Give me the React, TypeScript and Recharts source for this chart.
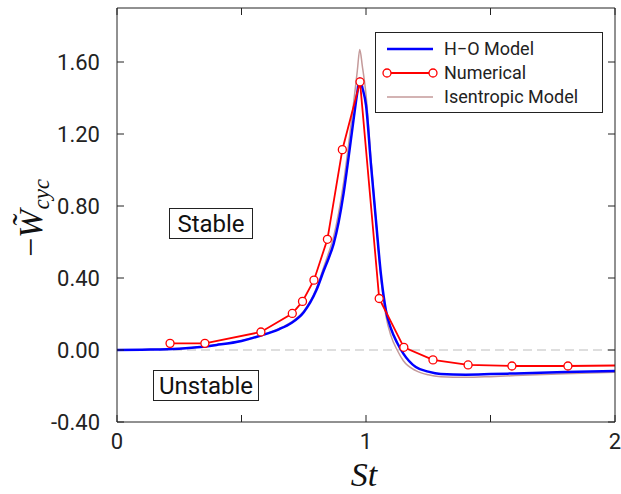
import React from "react";
import {
  LineChart,
  Line,
  XAxis,
  YAxis,
  ReferenceLine,
} from "recharts";

// Strouhal number grid for the two model curves
const modelSt = [
  0, 0.1, 0.2, 0.3, 0.4, 0.5, 0.575, 0.65, 0.7, 0.75, 0.8, 0.83, 0.85, 0.87, 0.89,
  0.91, 0.93, 0.95, 0.965, 0.975, 0.985, 1.0, 1.02, 1.04, 1.06, 1.08, 1.1, 1.125,
  1.15, 1.2, 1.25, 1.3, 1.4, 1.5, 1.6, 1.8, 2.0,
];

// H-O model
const hoModel = [
  0, 0.002, 0.004, 0.012, 0.028, 0.05, 0.079, 0.115, 0.15, 0.21, 0.33, 0.44, 0.51,
  0.59, 0.71, 0.87, 1.07, 1.28, 1.43, 1.51, 1.46, 1.36, 1.03, 0.72, 0.42, 0.22,
  0.12, 0.04, -0.02, -0.095, -0.12, -0.133, -0.137, -0.134, -0.13, -0.122, -0.116,
];

// Isentropic model
const isentropicModel = [
  0, 0.002, 0.005, 0.013, 0.029, 0.052, 0.081, 0.118, 0.155, 0.215, 0.34, 0.46,
  0.54, 0.63, 0.76, 0.93, 1.14, 1.37, 1.55, 1.67, 1.58, 1.42, 1.06, 0.72, 0.4,
  0.19, 0.08, 0.0, -0.06, -0.115, -0.138, -0.148, -0.152, -0.148, -0.142, -0.132,
  -0.124,
];

// Numerical results
const numSt = [
  0.213, 0.353, 0.578, 0.704, 0.745, 0.791, 0.845, 0.905, 0.976, 1.053, 1.152,
  1.269, 1.41, 1.586, 1.811, 2.0,
];
const numW = [
  0.037, 0.037, 0.1, 0.203, 0.27, 0.388, 0.615, 1.113, 1.49, 0.286, 0.015, -0.055,
  -0.083, -0.089, -0.089, -0.086,
];

const xTicks = [0, 0.5, 1, 1.5, 2];
const xTickLabels = ["0", "", "1", "", "2"];
const yTicks = [-0.4, 0, 0.4, 0.8, 1.2, 1.6];
const yTickLabels = ["-0.40", "0.00", "0.40", "0.80", "1.20", "1.60"];

const hoData = modelSt.map((st, i) => ({ st, w: hoModel[i] }));
const isoData = modelSt.map((st, i) => ({ st, w: isentropicModel[i] }));
const numData = numSt.map((st, i) => ({ st, w: numW[i] }));

const TICK_FONT = "Roboto, 'DejaVu Sans', sans-serif";
const TICK_LEN = 7;

const BottomTick = (props: any) => {
  const { x, y, index } = props;
  return (
    <g>
      <line x1={x} y1={y} x2={x} y2={y - TICK_LEN} stroke="#222" strokeWidth={1} />
      <text x={x} y={y + 27} textAnchor="middle" fontSize={22} fontFamily={TICK_FONT} fill="#222">
        {xTickLabels[index]}
      </text>
    </g>
  );
};

const TopTick = (props: any) => {
  const { x, y } = props;
  return <line x1={x} y1={y} x2={x} y2={y + TICK_LEN} stroke="#222" strokeWidth={1} />;
};

const LeftTick = (props: any) => {
  const { x, y, index } = props;
  return (
    <g>
      <line x1={x} y1={y} x2={x + TICK_LEN} y2={y} stroke="#222" strokeWidth={1} />
      <text x={x - 17} y={y + 8} textAnchor="end" fontSize={22} fontFamily={TICK_FONT} fill="#222">
        {yTickLabels[index]}
      </text>
    </g>
  );
};

const RightTick = (props: any) => {
  const { x, y } = props;
  return <line x1={x} y1={y} x2={x - TICK_LEN} y2={y} stroke="#222" strokeWidth={1} />;
};

const lastIdx = numData.length - 1;
const NumDot = (props: any) => {
  const { cx, cy, index } = props;
  if (index === lastIdx) return <g key={`d${index}`} />;
  return (
    <circle key={`d${index}`} cx={cx} cy={cy} r={4} fill="#fff" stroke="#ff0000" strokeWidth={1.3} />
  );
};

function Overlay() {
  const legendFont = "Roboto, 'DejaVu Sans', sans-serif";
  return (
    <svg
      width={621}
      height={494}
      style={{ position: "absolute", left: 0, top: 0, pointerEvents: "none" }}
    >
      {/* legend */}
      <rect x={375.5} y={32.5} width={227} height={80} fill="#fff" stroke="#222" strokeWidth={1} />
      <line x1={387} y1={49} x2={433} y2={49} stroke="#0000ff" strokeWidth={2.5} />
      <text x={444} y={55} fontSize={18} fontFamily={legendFont} fill="#222">H−O Model</text>
      <line x1={387} y1={73} x2={433} y2={73} stroke="#ff0000" strokeWidth={1.8} />
      <circle cx={387} cy={73} r={4} fill="#fff" stroke="#ff0000" strokeWidth={1.3} />
      <circle cx={433} cy={73} r={4} fill="#fff" stroke="#ff0000" strokeWidth={1.3} />
      <text x={444} y={79} fontSize={18} fontFamily={legendFont} fill="#222">Numerical</text>
      <line x1={387} y1={97} x2={433} y2={97} stroke="#c49a9a" strokeWidth={1.5} />
      <text x={444} y={103} fontSize={18} fontFamily={legendFont} fill="#222">Isentropic Model</text>

      {/* region labels */}
      <rect x={169.5} y={208.5} width={83} height={30} fill="#fff" stroke="#222" strokeWidth={1} />
      <text x={211} y={232} textAnchor="middle" fontSize={24} fontFamily={legendFont} fill="#111">Stable</text>
      <rect x={153.5} y={370.5} width={105} height={30} fill="#fff" stroke="#222" strokeWidth={1} />
      <text x={206} y={394} textAnchor="middle" fontSize={24} fontFamily={legendFont} fill="#111">Unstable</text>

      {/* axis titles */}
      <text x={364} y={486} textAnchor="middle" fontSize={34} fontStyle="italic" fontFamily="'Liberation Serif', 'DejaVu Serif', serif" fill="#111">
        St
      </text>
      <text
        transform="translate(42, 218) rotate(-90)"
        textAnchor="middle"
        fontSize={34}
        fontFamily="'Liberation Serif', 'DejaVu Serif', serif"
        fill="#111"
      >
        <tspan>−</tspan>
        <tspan fontStyle="italic">W̃</tspan>
        <tspan fontStyle="italic" fontSize={23} dy={7}>cyc</tspan>
      </text>
    </svg>
  );
}

export default function App() {
  return (
    <div style={{ position: "absolute", left: 0, top: 0, width: 621, height: 494, background: "#fff" }}>
      <LineChart
        width={621}
        height={494}
        margin={{ top: 0, right: 0, bottom: 0, left: 0 }}
      >
        <XAxis
          xAxisId="b"
          dataKey="st"
          type="number"
          domain={[0, 2]}
          ticks={xTicks}
          allowDataOverflow
          height={72}
          tickSize={0}
          tickMargin={0}
          tickLine={false}
          tick={<BottomTick />}
          stroke="#222"
          interval={0}
        />
        <XAxis
          xAxisId="t"
          orientation="top"
          dataKey="st"
          type="number"
          domain={[0, 2]}
          ticks={xTicks}
          allowDataOverflow
          height={8}
          tickSize={0}
          tickMargin={0}
          tickLine={false}
          tick={<TopTick />}
          stroke="#222"
          interval={0}
        />
        <YAxis
          yAxisId="l"
          type="number"
          domain={[-0.4, 1.9]}
          ticks={yTicks}
          allowDataOverflow
          width={117}
          tickSize={0}
          tickMargin={0}
          tickLine={false}
          tick={<LeftTick />}
          stroke="#222"
          interval={0}
        />
        <YAxis
          yAxisId="r"
          orientation="right"
          type="number"
          domain={[-0.4, 1.9]}
          ticks={yTicks}
          allowDataOverflow
          width={6}
          tickSize={0}
          tickMargin={0}
          tickLine={false}
          tick={<RightTick />}
          stroke="#222"
          interval={0}
        />
        <ReferenceLine
          xAxisId="b"
          yAxisId="l"
          y={0}
          stroke="#d4d4d4"
          strokeWidth={1.5}
          strokeDasharray="9 5"
        />
        <Line
          xAxisId="b"
          yAxisId="l"
          data={isoData}
          dataKey="w"
          type="monotone"
          stroke="#c49a9a"
          strokeWidth={1.5}
          dot={false}
          isAnimationActive={false}
        />
        <Line
          xAxisId="b"
          yAxisId="l"
          data={hoData}
          dataKey="w"
          type="monotone"
          stroke="#0000ff"
          strokeWidth={2.5}
          dot={false}
          isAnimationActive={false}
        />
        <Line
          xAxisId="b"
          yAxisId="l"
          data={numData}
          dataKey="w"
          type="linear"
          stroke="#ff0000"
          strokeWidth={1.8}
          dot={<NumDot />}
          isAnimationActive={false}
        />
      </LineChart>
      <Overlay />
    </div>
  );
}
